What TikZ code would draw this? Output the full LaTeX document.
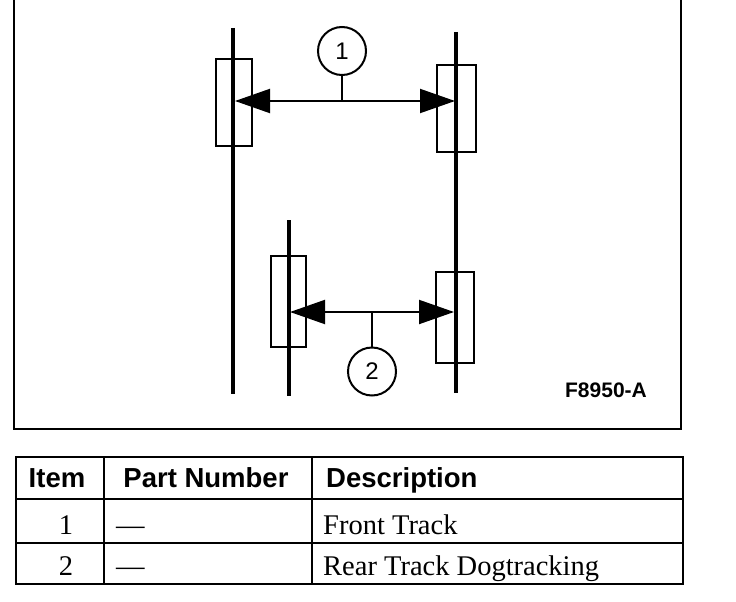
\documentclass[tikz,border=0pt]{standalone}
\usepackage{fontspec}
\setmainfont{Liberation Serif}
\setsansfont{Liberation Sans}
\usetikzlibrary{arrows.meta}

\tikzset{
	wheel/.style={draw, line width=2pt, minimum width=36pt, inner sep=0pt},
	axle/.style={line width=3.2pt},
	track/.style={line width=2pt, {Triangle[length=35pt,width=24pt]}-{Triangle[length=35pt,width=24pt]}},
	callout/.style={draw, circle, line width=2pt, minimum size=48pt, inner sep=0pt, font=\sffamily\fontsize{24}{26}\selectfont},
	head/.style={anchor=base, inner sep=0pt, font=\sffamily\bfseries\fontsize{27.5}{30}\selectfont},
	cell/.style={anchor=base west, inner sep=0pt, font=\fontsize{28.5}{32}\selectfont}
}

\begin{document}
\begin{tikzpicture}[x=1pt, y=-1pt]
	\useasboundingbox (0,0) rectangle (736,602);
	%\draw[help lines] (0,0) grid[step=50] (736,602);
	% frame
	\draw[line width=2pt] (14,-5) -- (14,429) -- (681,429) -- (681,-5);
	% wheels
	\node[wheel, minimum height=87pt] (fl) at (234,102.5) {};
	\node[wheel, minimum height=87pt, minimum width=39pt] (fr) at (456.5,108.5) {};
	\node[wheel, minimum height=91pt, minimum width=35pt] (rl) at (288.5,301.5) {};
	\node[wheel, minimum height=91pt, minimum width=38pt] (rr) at (455,317.5) {};
	% track lines
	\draw[axle] (233,28) -- (233,394);
	\draw[axle] (456,32) -- (456,393);
	\draw[axle] (289,220) -- (289,396);
	\coordinate (a1) at (235,101);
	\coordinate (b1) at (455,101);
	\coordinate (a2) at (290,312);
	\coordinate (b2) at (454,312);
	\draw[track] (a1) -- (b1);
	\draw[track] (a2) -- (b2);
	\node[callout] (c1) at (342,51) {1};
	\node[callout] (c2) at (372,371.5) {2};
	\draw[line width=2pt] (c1) -- (c1 |- a1);
	\draw[line width=2pt] (c2) -- (c2 |- a2);
	\node[anchor=base, inner sep=0pt, font=\sffamily\bfseries\fontsize{21}{23}\selectfont] (fig) at (606,397) {F8950-A};
	% table
	\draw[line width=2pt] (16,457) rectangle (683,584);
	\draw[line width=2pt] (16,499) -- (683,499);
	\draw[line width=2pt] (16,543) -- (683,543);
	\draw[line width=2pt] (104,457) -- (104,584);
	\draw[line width=2pt] (312,457) -- (312,584);
	\node[head] (item) at (57,487) {Item};
	\node[head] (part) at (206,487) {Part Number};
	\node[head, anchor=base west] (desc) at (326,487) {Description};
	\node[cell, anchor=base] (i1) at (66,534) {1};
	\node[cell] (p1) at (116,534) {—};
	\node[cell] (d1) at (323,534) {Front Track};
	\node[cell, anchor=base] (i2) at (66,575) {2};
	\node[cell] (p2) at (116,575) {—};
	\node[cell] (d2) at (323,575) {Rear Track Dogtracking};
\end{tikzpicture}
\end{document}
